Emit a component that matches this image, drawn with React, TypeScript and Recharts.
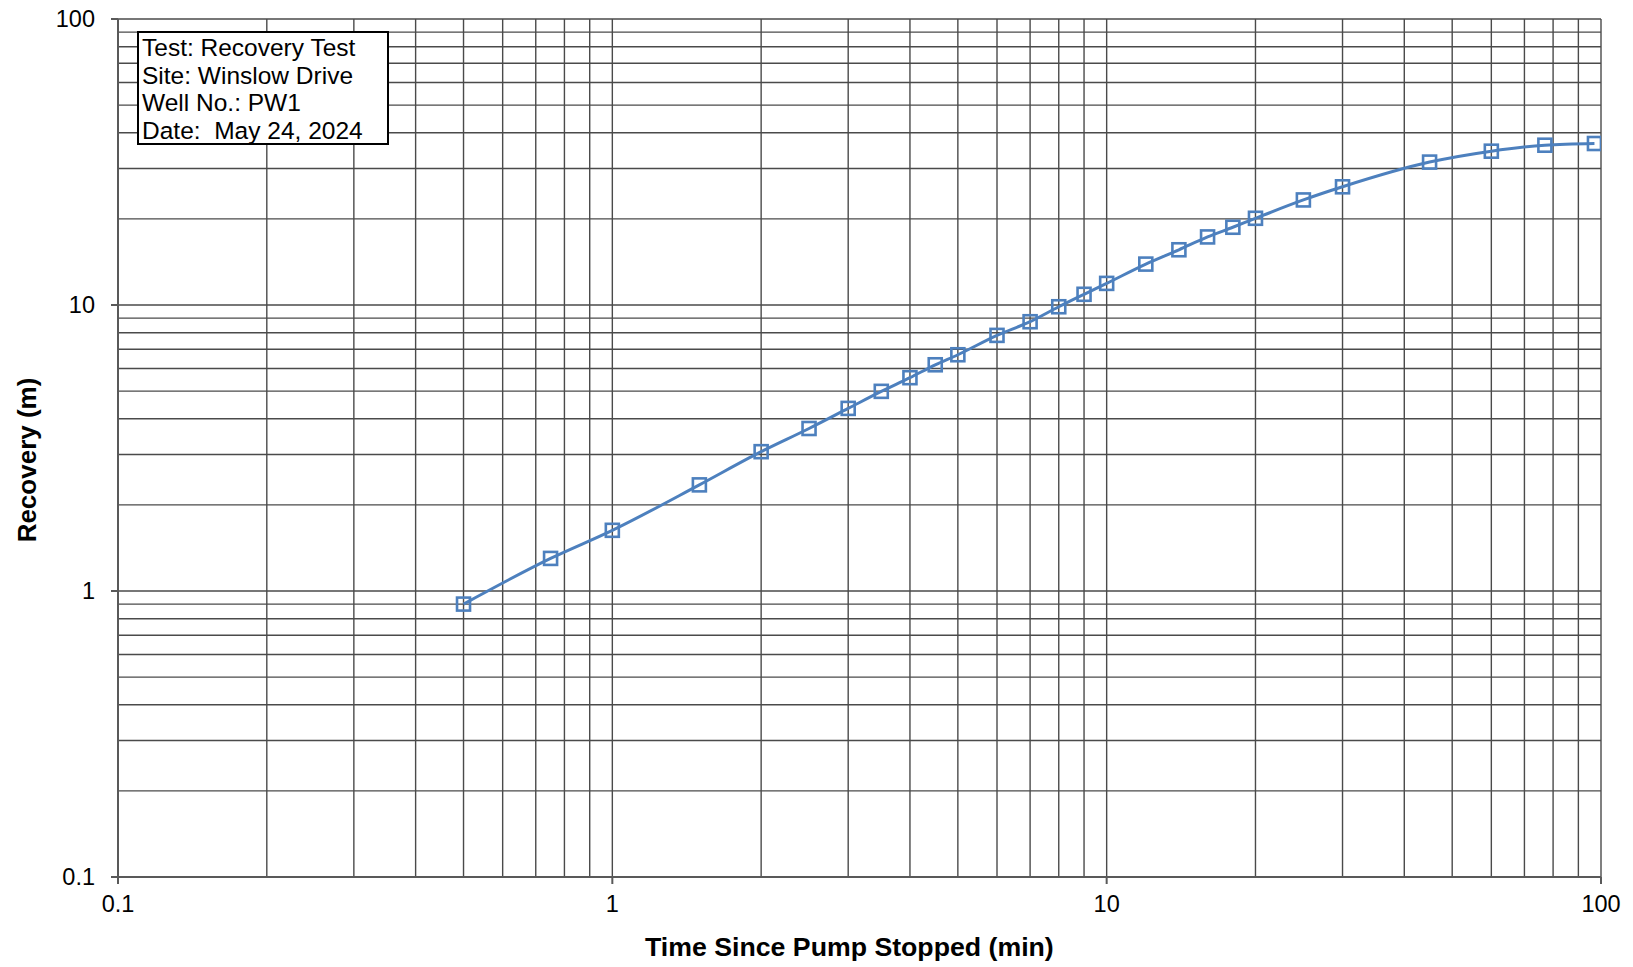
import React from "react";
import { LineChart, Line, XAxis, YAxis, CartesianGrid } from "recharts";

// page has the default 8px body margin; drop it so the chart sits at the origin
if (typeof document !== "undefined") document.body.style.margin = "0";

const WIDTH = 1633;
const HEIGHT = 967;
const FONT = "'Liberation Sans', Arial, Helvetica, sans-serif";
const BLUE = "#4D80BE";

// recovery test readings
const timeMin = [
  0.5, 0.75, 1, 1.5, 2, 2.5, 3, 3.5, 4, 4.5, 5, 6, 7, 8, 9, 10, 12, 14, 16, 18, 20, 25, 30, 45, 60, 77, 97,
];
const recoveryM = [
  0.9, 1.3, 1.63, 2.35, 3.07, 3.7, 4.35, 4.99, 5.57, 6.18, 6.7, 7.83, 8.74, 9.86, 10.9, 11.9, 13.9, 15.6, 17.3,
  18.7, 20.1, 23.3, 25.9, 31.6, 34.5, 36.2, 36.7,
];

// log-cycle grid: 1..9 in every decade
const xTicks = [
  0.1, 0.2, 0.3, 0.4, 0.5, 0.6, 0.7, 0.8, 0.9, 1, 2, 3, 4, 5, 6, 7, 8, 9, 10, 20, 30, 40, 50, 60, 70, 80, 90, 100,
];
const yTicks = xTicks;
const decadeLabels = ["0.1", "1", "10", "100"];

const infoLines = ["Test: Recovery Test", "Site: Winslow Drive", "Well No.: PW1", "Date:  May 24, 2024"];

const data = timeMin.map((t, i) => ({ t, r: recoveryM[i] }));

const TICK_LEN = 7;

const isDecade = (v: number) => decadeLabels.includes(String(v));

const XTick = (props: any) => {
  const { x, y, payload } = props;
  if (!isDecade(payload.value)) return <g />;
  const top = y - 4 - TICK_LEN;
  return (
    <g>
      <line x1={x} x2={x} y1={top} y2={top + TICK_LEN} stroke="#595959" strokeWidth={2} />
      <text x={x} y={top + 35} textAnchor="middle" fontFamily={FONT} fontSize={23.5} fill="#000">
        {String(payload.value)}
      </text>
    </g>
  );
};

const YTick = (props: any) => {
  const { x, y, payload } = props;
  if (!isDecade(payload.value)) return <g />;
  const right = x + 16 + TICK_LEN;
  return (
    <g>
      <line x1={right - TICK_LEN} x2={right} y1={y} y2={y} stroke="#595959" strokeWidth={2} />
      <text x={x} y={y + 8} textAnchor="end" fontFamily={FONT} fontSize={23.5} fill="#000">
        {String(payload.value)}
      </text>
    </g>
  );
};

const SquareDot = (props: any) => {
  const { cx, cy, index } = props;
  if (cx == null || cy == null) return <g key={index} />;
  return (
    <rect
      key={index}
      x={cx - 6.5}
      y={cy - 6.5}
      width={13}
      height={13}
      fill="none"
      stroke={BLUE}
      strokeWidth={2.6}
    />
  );
};

export default function App() {
  return (
    <div style={{ position: "relative", width: WIDTH, height: HEIGHT, background: "#fff", fontFamily: FONT }}>
      <LineChart width={WIDTH} height={HEIGHT} data={data} margin={{ top: 19, right: 32, bottom: 30, left: 8 }}>
        <CartesianGrid stroke="#4a4a4a" strokeWidth={1.4} />
        <XAxis
          dataKey="t"
          type="number"
          scale="log"
          domain={[0.1, 100]}
          allowDataOverflow
          ticks={xTicks}
          interval={0}
          height={60}
          tickLine={false}
          tickSize={TICK_LEN}
          tickMargin={4}
          stroke="#595959"
          strokeWidth={2}
          tick={<XTick />}
        />
        <YAxis
          dataKey="r"
          type="number"
          scale="log"
          domain={[0.1, 100]}
          allowDataOverflow
          ticks={yTicks}
          interval={0}
          width={110}
          tickLine={false}
          tickSize={TICK_LEN}
          tickMargin={16}
          stroke="#595959"
          strokeWidth={2}
          tick={<YTick />}
        />
        <Line
          dataKey="r"
          type="monotone"
          stroke={BLUE}
          strokeWidth={3}
          dot={<SquareDot />}
          activeDot={false}
          isAnimationActive={false}
        />
      </LineChart>

      <div
        style={{
          position: "absolute",
          left: 137,
          top: 31,
          width: 245,
          height: 109,
          border: "2px solid #000",
          background: "#fff",
          padding: "1px 0 0 3px",
          fontSize: 24.5,
          lineHeight: "27.5px",
          color: "#000",
          whiteSpace: "pre",
        }}
      >
        {infoLines.map((l) => (
          <div key={l}>{l}</div>
        ))}
      </div>

      <div
        style={{
          position: "absolute",
          left: 645,
          width: 400,
          top: 932,
          textAlign: "center",
          fontWeight: "bold",
          fontSize: 26.7,
          whiteSpace: "nowrap",
        }}
      >
        Time Since Pump Stopped (min)
      </div>

      <div
        style={{
          position: "absolute",
          left: 27,
          top: 460,
          transform: "translate(-50%, -50%) rotate(-90deg)",
          fontWeight: "bold",
          fontSize: 26,
          whiteSpace: "nowrap",
        }}
      >
        Recovery (m)
      </div>
    </div>
  );
}
